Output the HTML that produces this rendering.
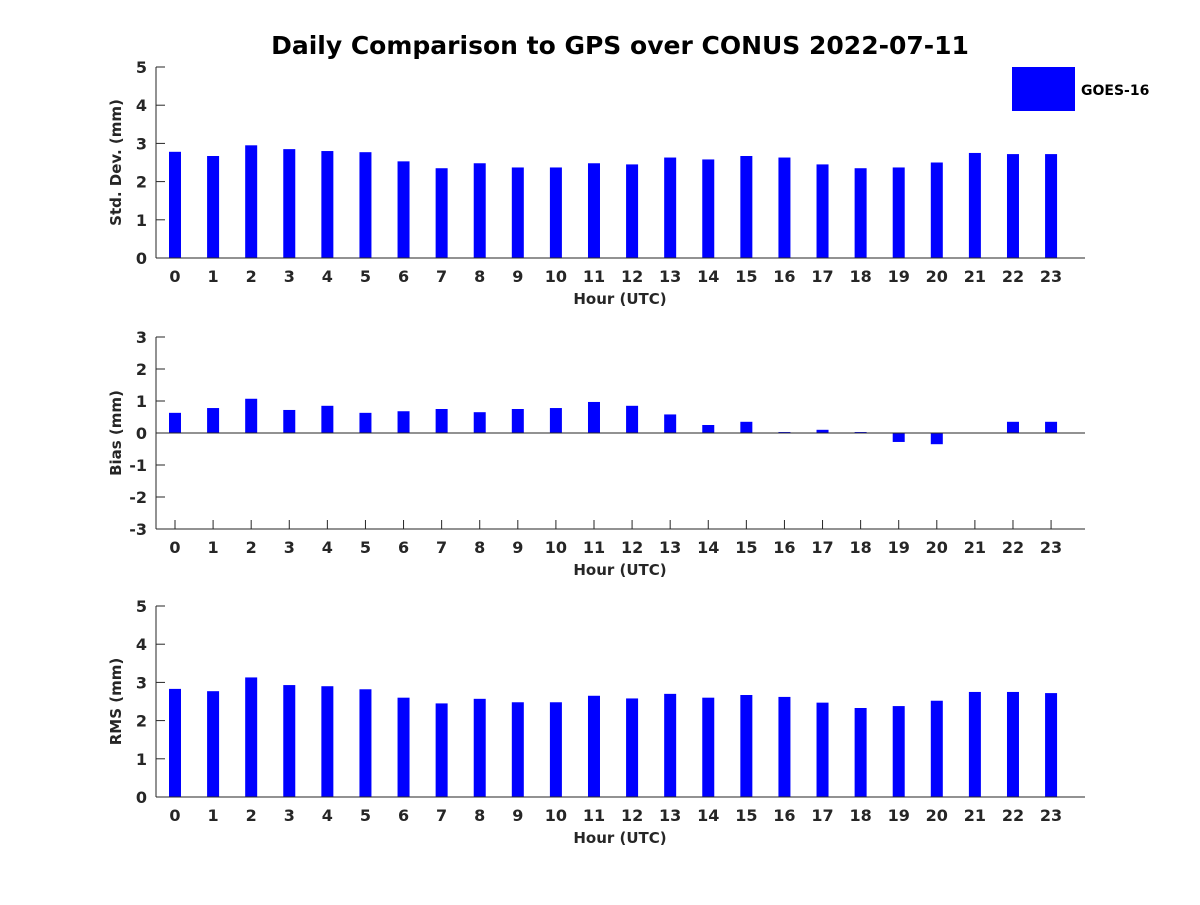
<!DOCTYPE html>
<html><head><meta charset="utf-8"><style>
html,body{margin:0;padding:0;background:#fff;}
svg text{font-family:"DejaVu Sans","Liberation Sans",sans-serif;font-weight:bold;fill:#262626;}
</style></head><body>
<svg id="chart" width="1200" height="900" xmlns="http://www.w3.org/2000/svg">
<rect width="1200" height="900" fill="#fff"/>
<text x="620" y="54" font-size="25" text-anchor="middle" style="fill:#000">Daily Comparison to GPS over CONUS 2022-07-11</text>
<g id="plots"></g>
<rect x="1012" y="67" width="63" height="44" fill="#0000ff"/>
<text x="1081" y="95" font-size="14" style="fill:#000">GOES-16</text>
</svg>
<script>
const hours = [0,1,2,3,4,5,6,7,8,9,10,11,12,13,14,15,16,17,18,19,20,21,22,23];
const stdValues = [2.78,2.67,2.95,2.85,2.8,2.77,2.53,2.35,2.48,2.37,2.37,2.48,2.45,2.63,2.58,2.67,2.63,2.45,2.35,2.37,2.5,2.75,2.72,2.72];
const biasValues = [0.63,0.78,1.07,0.72,0.85,0.63,0.68,0.75,0.65,0.75,0.78,0.97,0.85,0.58,0.25,0.35,0.03,0.1,0.03,-0.28,-0.35,0,0.35,0.35];
const rmsValues = [2.83,2.77,3.13,2.93,2.9,2.82,2.6,2.45,2.57,2.48,2.48,2.65,2.58,2.7,2.6,2.67,2.62,2.47,2.33,2.38,2.52,2.75,2.75,2.72];
const stdTicks = [0,1,2,3,4,5];
const biasTicks = [-3,-2,-1,0,1,2,3];
const rmsTicks = [0,1,2,3,4,5];

const NS = "http://www.w3.org/2000/svg";
const g = document.getElementById('plots');
function mk(tag, attrs, parent){const e=document.createElementNS(NS,tag);for(const k in attrs)e.setAttribute(k,attrs[k]);(parent||g).appendChild(e);return e;}
const X0=156, X1=1085;
function xScale(h){return 175 + h*38.09;}

function panel(name, top, bottom, ymin, ymax, ticks, values, ylabel){
  const y = v => bottom - (v - ymin)/(ymax - ymin)*(bottom - top);
  const grp = mk('g', {});
  
  
  hours.forEach(h=>{
    mk('line',{x1:xScale(h),y1:bottom,x2:xScale(h),y2:bottom-9,stroke:'#262626'},grp);
    const tx=mk('text',{x:xScale(h),y:bottom+24,'font-size':16,'text-anchor':'middle'},grp);
    tx.textContent=h;
    
    
  });
  values.forEach((v,i)=>{
    const y0=y(0), yv=y(v);
    const r=mk('rect',{x:xScale(hours[i])-6,y:Math.min(y0,yv),width:12,height:Math.abs(yv-y0),fill:'#0000ff'},grp);
    
    
  });
  const ax=mk('line',{x1:X0,y1:top,x2:X0,y2:bottom,stroke:'#262626','stroke-width':1},grp);
  
  
  const bx=mk('line',{x1:X0,y1:bottom,x2:X1,y2:bottom,stroke:'#262626','stroke-width':1},grp);
  
  
  if(ymin<0){
    const z=mk('line',{x1:X0,y1:y(0),x2:X1,y2:y(0),stroke:'#262626','stroke-width':1},grp);
    
    
  }
  ticks.forEach(t=>{
    mk('line',{x1:X0,y1:y(t),x2:X0+9,y2:y(t),stroke:'#262626'},grp);
    const tx=mk('text',{x:X0-9,y:y(t)+6,'font-size':16,'text-anchor':'end'},grp);
    tx.textContent=t;
    
    
  });
  const xl=mk('text',{x:620,y:bottom+46,'font-size':15,'text-anchor':'middle'},grp);
  xl.textContent='Hour (UTC)';
  
  
  const cy=(top+bottom)/2;
  const yl=mk('text',{x:121,y:cy,'font-size':15,'text-anchor':'middle',transform:'rotate(-90 121 '+cy+')'},grp);
  yl.textContent=ylabel;
  
  
}
panel('std',67,258,0,5,stdTicks,stdValues,'Std. Dev. (mm)');
panel('bias',337,529,-3,3,biasTicks,biasValues,'Bias (mm)');
panel('rms',606,797,0,5,rmsTicks,rmsValues,'RMS (mm)');
</script>
</body></html>
